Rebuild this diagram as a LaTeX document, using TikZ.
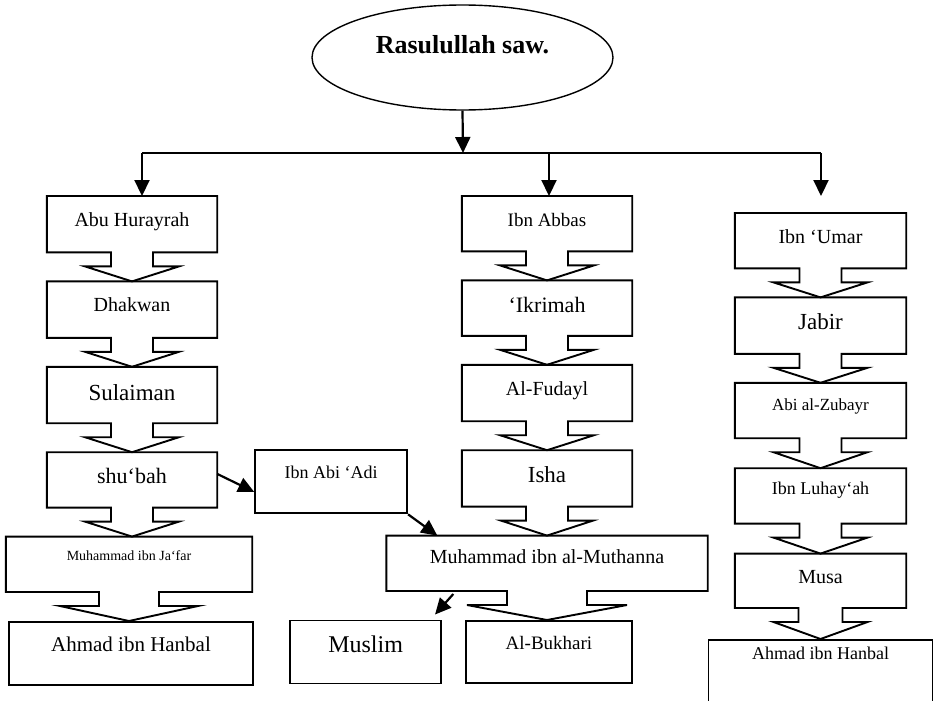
\documentclass[tikz,border=0pt]{standalone}
\usepackage{fontspec}
\setmainfont{Liberation Serif}
\usetikzlibrary{positioning, calc, arrows.meta, shapes.geometric}
\tikzstyle{plainbox} = [rectangle, inner sep=0pt, minimum width=170pt, text height=30pt, text depth=25pt, text centered, font=\fontsize{20}{22}\selectfont]
\tikzstyle{box} = [plainbox, draw=black, line width=1.9pt]
\tikzstyle{arrow} = [line width=2.2pt, -{Triangle[width=15pt,length=16pt]}]
\tikzstyle{calloutline} = [line width=1.9pt]
\tikzset{fs/.style={font=\fontsize{#1}{#1}\selectfont}, tb/.style 2 args={text height=#1pt, text depth=#2pt}}
% box with a down arrow whose tip touches the next box
\newcommand{\callout}[4]{%
  \draw[calloutline] (#1.north west) -- (#1.north east) -- (#1.south east)
    -- ($(#1.south)+(#3,0)$) -- ($(#1.south)+(#3,14)$) -- ($(#1.south)+(#4,14)$)
    -- (#1.south |- #2.north) -- ($(#1.south)+(-#4,14)$) -- ($(#1.south)+(-#3,14)$)
    -- ($(#1.south)+(-#3,0)$) -- (#1.south west) -- cycle;}

\begin{document}
\begin{tikzpicture}[x=1pt, y=-1pt, node distance=29pt]
        \useasboundingbox (0,0) rectangle (937,701);
        \node (ras) [ellipse, draw, line width=1.4pt, minimum width=301pt, minimum height=105pt, inner sep=0pt, font=\bfseries\fontsize{26}{26}\selectfont] at (462.5,57.5) {\raisebox{4pt}[0pt][0pt]{Rasulullah saw.}};
        \coordinate (hub) at (463,153);
        \coordinate (jl) at (142,153);
        \coordinate (jm) at (549,153);
        \coordinate (jr) at (821,153);

        % left chain
        \node (abu) [plainbox, anchor=north, tb={30}{26}] at (132,196) {Abu Hurayrah};
        \node (dhakwan) [plainbox, below=of abu, tb={30}{26}] {Dhakwan};
        \node (sulaiman) [plainbox, below=of dhakwan, tb={33}{23}, fs=23] {Sulaiman};
        \node (shubah) [plainbox, below=of sulaiman, tb={31}{24}, fs=22] {shu‘bah};
        \node (jafar) [plainbox, below=of shubah, xshift=-3pt, minimum width=246pt, tb={24}{31}, fs=14] {Muhammad ibn Ja‘far};
        \node (ahmadl) [box, below=of jafar, xshift=2pt, minimum width=244pt, tb={30}{33}, fs=21] {Ahmad ibn Hanbal};
        \node (adi) [box, right=37pt of shubah, yshift=-2pt, minimum width=152pt, tb={28}{35}, fs=18] {Ibn Abi ‘Adi};

        % middle chain
        \node (abbas) [plainbox, anchor=north, tb={30}{25}, fs=19] at (547,196) {Ibn Abbas};
        \node (ikrimah) [plainbox, below=of abbas, tb={32}{23}, fs=22] {‘Ikrimah};
        \node (fudayl) [plainbox, below=of ikrimah, tb={30}{26}] {Al-Fudayl};
        \node (isha) [plainbox, below=of fudayl, tb={32}{24}, fs=23] {Isha};
        \node (muthanna) [plainbox, below=of isha, minimum width=321pt, tb={28}{27}] {Muhammad ibn al-Muthanna};
        \node (bukhari) [box, below=of muthanna, xshift=2pt, minimum width=166pt, tb={29}{33}, fs=19] {Al-Bukhari};
        \node (muslim) [box, left=23pt of bukhari, minimum width=151pt, tb={32}{31}, fs=24] {Muslim};

        % right chain
        \node (umar) [plainbox, anchor=north, minimum width=171pt, tb={30}{25}] at (820.5,213) {Ibn ‘Umar};
        \node (jabir) [plainbox, below=of umar, minimum width=171pt, tb={32}{24}, fs=23] {Jabir};
        \node (zubayr) [plainbox, below=of jabir, minimum width=171pt, tb={27}{28}, fs=17] {Abi al-Zubayr};
        \node (luhayah) [plainbox, below=30pt of zubayr, minimum width=171pt, tb={26}{29}, fs=18] {Ibn Luhay‘ah};
        \node (musa) [plainbox, below=30pt of luhayah, minimum width=171pt, tb={30}{24}] {Musa};
        \node (ahmadr) [box, below=31pt of musa, minimum width=224pt, tb={20}{42}, fs=18] {Ahmad ibn Hanbal};

        \draw [arrow] (ras.south) -- (hub);
        \draw [line width=1.9pt] (jl) -- (jr);
        \draw [arrow] (jl) -- (jl |- abu.north);
        \draw [arrow] (jm) -- (jm |- abbas.north);
        \draw [arrow, shorten >=17pt] (jr) -- (jr |- umar.north);

        \callout{abu}{dhakwan}{21}{47}
        \callout{dhakwan}{sulaiman}{21}{47}
        \callout{sulaiman}{shubah}{21}{47}
        \callout{shubah}{jafar}{21}{47}
        \callout{jafar}{ahmadl}{30}{69}

        \callout{abbas}{ikrimah}{21}{47}
        \callout{ikrimah}{fudayl}{21}{47}
        \callout{fudayl}{isha}{21}{47}
        \callout{isha}{muthanna}{21}{46}
        \callout{muthanna}{bukhari}{40}{80}

        \callout{umar}{jabir}{21}{47}
        \callout{jabir}{zubayr}{21}{47}
        \callout{zubayr}{luhayah}{21}{47}
        \callout{luhayah}{musa}{21}{47}
        \callout{musa}{ahmadr}{22}{47}

        \draw [arrow] ([yshift=6pt]shubah.east) -- ([yshift=-10pt]adi.west);
        \draw [arrow] (adi.south east) -- ([xshift=51pt]muthanna.north west);
        \draw [arrow] ([shift={(67,3)}]muthanna.south west) -- ([shift={(-7,-5)}]muslim.north east);

        \end{tikzpicture}
\end{document}
